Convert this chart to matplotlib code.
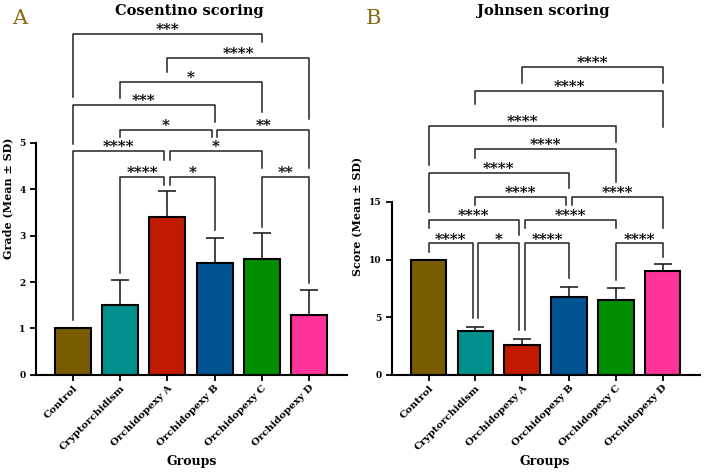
import numpy as np
import matplotlib
matplotlib.use('Agg')
import matplotlib.pyplot as plt

plt.rcParams['font.family'] = ['DejaVu Serif']
plt.rcParams['font.weight'] = 'bold'

groups = ['Control', 'Cryptorchidism', 'Orchidopexy A', 'Orchidopexy B', 'Orchidopexy C', 'Orchidopexy D']
colors = ['#7a5c00', '#00908e', '#c01a00', '#005493', '#008f00', '#ff3399']

# panel A - Cosentino grade
cos_mean = [1.0, 1.5, 3.4, 2.4, 2.5, 1.3]
cos_sd = [0.0, 0.55, 0.55, 0.55, 0.55, 0.52]
cos_sig = ['***', '****', '*', '***', '*', '**', '****', '*', '****', '*', '**']

# panel B - Johnsen score
joh_mean = [10.0, 3.8, 2.6, 6.8, 6.5, 9.0]
joh_sd = [0.0, 0.4, 0.55, 0.85, 1.05, 0.65]
joh_sig = ['****', '****', '****', '****', '****', '****', '****',
           '****', '****', '****', '*', '****', '****']

# bracket layout (x1, x2, top, left leg end, right leg end)
d = 0.06
cos_br = [(0, 4, 7.33, 5.99, 7.16),
          (2, 5, 6.83, 6.51, 5.50),
          (1, 4, 6.31, 5.97, 5.65),
          (0, 3, 5.82, 4.96, 5.45),
          (1, 3-d, 5.28, 5.13, 5.13),
          (3+d, 5, 5.28, 5.13, 4.46),
          (0, 2-d, 4.81, 1.19, 4.63),
          (2+d, 4, 4.81, 4.63, 4.46),
          (1, 2-d, 4.27, 2.20, 4.09),
          (2+d, 3, 4.27, 4.09, 3.13),
          (4, 5, 4.27, 3.19, 1.98)]
joh_br = [(2, 5, 26.7, 25.3, 25.3),
          (1, 5, 24.6, 23.5, 21.5),
          (0, 4, 21.6, 18.2, 20.2),
          (1, 4, 19.6, 18.8, 16.7),
          (0, 3, 17.5, 14.1, 16.2),
          (1, 3-d, 15.4, 14.7, 14.7),
          (3+d, 5, 15.4, 14.7, 12.7),
          (0, 2-d, 13.4, 12.7, 12.1),
          (2+d, 4, 13.4, 12.7, 12.7),
          (0, 1-d, 11.4, 10.7, 4.9),
          (1+d, 2-d, 11.4, 4.9, 3.9),
          (2+d, 3, 11.4, 3.9, 8.4),
          (4, 5, 11.4, 8.2, 10.2)]


def draw_panel(ax, mean, sd, brackets, sig, ylim, ytop, yticks, ylabel):
    x = np.arange(len(groups))
    ax.bar(x, mean, width=0.76, color=colors, edgecolor='black', linewidth=1.5, zorder=2)
    ax.errorbar(x, mean, yerr=[np.zeros(len(sd)), sd], fmt='none', ecolor='#222222',
                elinewidth=1.2, capsize=6.5, capthick=1.2, zorder=1)
    for (x1, x2, top, lb, rb), s in zip(brackets, sig):
        ax.plot([x1, x1, x2, x2], [lb, top, top, rb], color='#222222', lw=1.1, clip_on=False)
        ax.annotate(s, xy=((x1 + x2) / 2, top), xytext=(0, -2.2), textcoords='offset points',
                    ha='center', va='bottom', fontsize=11, fontweight='bold')
    ax.set_xlim(-0.78, 5.8)
    ax.set_ylim(0, ylim)
    ax.spines['top'].set_visible(False)
    ax.spines['right'].set_visible(False)
    ax.spines['left'].set_bounds(0, ytop)
    ax.spines['left'].set_linewidth(1.5)
    ax.spines['bottom'].set_linewidth(1.5)
    ax.set_yticks(yticks)
    ax.set_xticks(x)
    ax.set_xticklabels(groups, rotation=45, ha='right', rotation_mode='anchor', fontsize=7.3)
    ax.tick_params(axis='both', width=1.3, length=4, labelsize=6.5)
    ax.tick_params(axis='x', labelsize=7.3, pad=2)
    ax.set_ylabel(ylabel, fontsize=8, fontweight='bold', labelpad=4)


fig = plt.figure(figsize=(7.05, 4.74), dpi=100)
ax1 = fig.add_axes([0.051, 0.209, 0.441, 0.745])
ax2 = fig.add_axes([0.556, 0.209, 0.437, 0.669])

draw_panel(ax1, cos_mean, cos_sd, cos_br, cos_sig, 7.6, 5, [0, 1, 2, 3, 4, 5], 'Grade (Mean ± SD)')
draw_panel(ax2, joh_mean, joh_sd, joh_br, joh_sig, 27.5, 15, [0, 5, 10, 15], 'Score (Mean ± SD)')

fig.text(0.268, 0.976, 'Cosentino scoring', ha='center', va='center', fontsize=10.5, fontweight='bold')
fig.text(0.77, 0.976, 'Johnsen scoring', ha='center', va='center', fontsize=10.5, fontweight='bold')
fig.text(0.272, 0.026, 'Groups', ha='center', va='center', fontsize=9, fontweight='bold')
fig.text(0.773, 0.026, 'Groups', ha='center', va='center', fontsize=9, fontweight='bold')
fig.text(0.017, 0.962, 'A', ha='left', va='center', fontsize=15, fontweight='normal', color='#8c6a14')
fig.text(0.519, 0.962, 'B', ha='left', va='center', fontsize=15, fontweight='normal', color='#8c6a14')

plt.savefig('out.png', dpi=100)
